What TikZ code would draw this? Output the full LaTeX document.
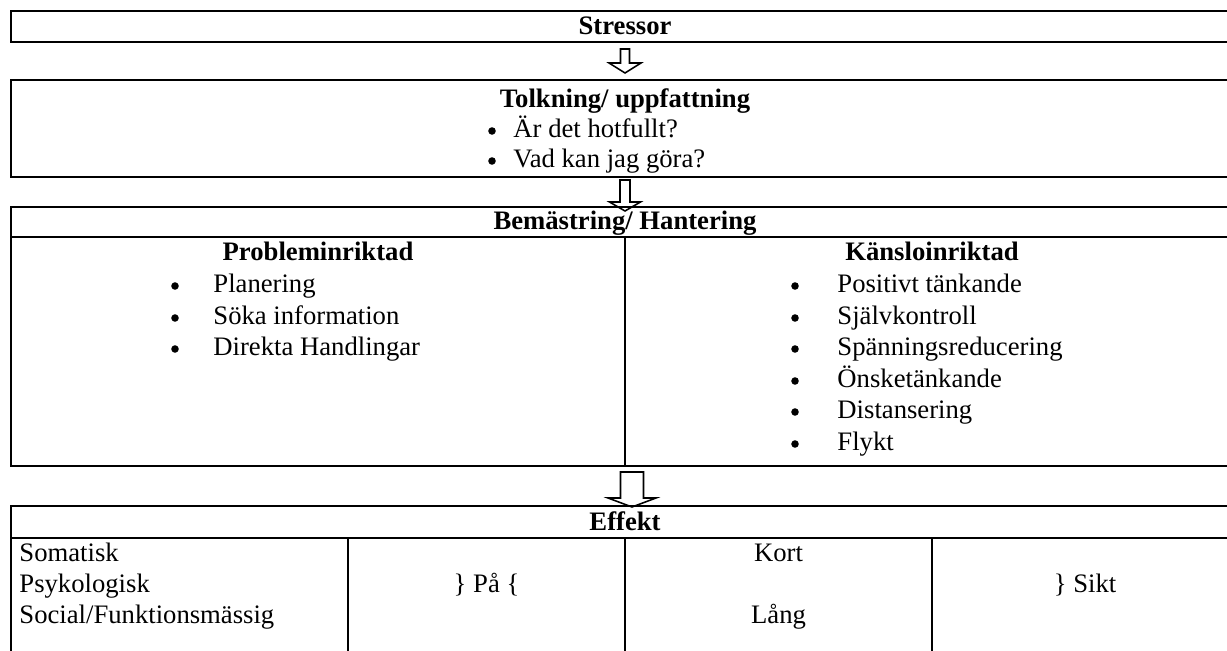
\documentclass[tikz,border=0pt]{standalone}
\usepackage{fontspec}
\setmainfont{Liberation Serif}
\usetikzlibrary{positioning,fit,calc}

\begin{document}
\begin{tikzpicture}[
    x=0.45pt, y=-0.45pt,
    font=\fontsize{12}{14}\selectfont,
    box/.style={rectangle, draw=black, line width=1.2pt, inner sep=0pt},
    divider/.style={line width=1.2pt},
    hollow/.style={draw=black, line width=0.7pt, line join=miter},
    headtext/.style={anchor=base, inner sep=0pt, font=\fontsize{12}{14}\selectfont\bfseries},
    plaintext/.style={anchor=base, inner sep=0pt},
    itemtext/.style={anchor=base west, inner sep=0pt},
    bulletdot/.style={circle, fill=black, inner sep=0pt, minimum size=3.4pt},
]
\useasboundingbox (0,0) rectangle (1227,651);
\clip (0,0) rectangle (1227,651);

% Stressor
\node[box, fit={(11,11) (1239,42)}] (stressor) {};
\node[headtext] (stressortxt) at (625,35) {Stressor};

% Tolkning
\node[box, fit={(11,80) (1239,177)}] (tolkning) {};
\node[headtext] (tolkningtxt) at (625,108) {Tolkning/ uppfattning};
\node[bulletdot] (tb1) at (492,131) {};
\node[itemtext] (tt1) at (513,138) {Är det hotfullt?};
\node[bulletdot] (tb2) at (492,161) {};
\node[itemtext] (tt2) at (513,168) {Vad kan jag göra?};

% Bemastring
\node[box, fit={(11,207) (1239,466)}] (bemastring) {};
\draw[divider] (11,237) -- (1239,237);
\draw[divider] (625,237) -- (bemastring.south);
\node[headtext] (bemtxt) at (625,230) {Bemästring/ Hantering};

% Probleminriktad
\node[headtext] (problem) at (318,261) {Probleminriktad};
\node[bulletdot] (pb1) at (175,286) {};
\node[itemtext] (pt1) at (213,293) {Planering};
\node[bulletdot] (pb2) at (175,318) {};
\node[itemtext] (pt2) at (213,325) {Söka information};
\node[bulletdot] (pb3) at (175,349) {};
\node[itemtext] (pt3) at (213,356) {Direkta Handlingar};

% Kansloinriktad
\node[headtext] (kansla) at (932,261) {Känsloinriktad};
\node[bulletdot] (kb1) at (795,286) {};
\node[itemtext] (kt1) at (837,293) {Positivt tänkande};
\node[bulletdot] (kb2) at (795,318) {};
\node[itemtext] (kt2) at (837,325) {Självkontroll};
\node[bulletdot] (kb3) at (795,349) {};
\node[itemtext] (kt3) at (837,356) {Spänningsreducering};
\node[bulletdot] (kb4) at (795,381) {};
\node[itemtext] (kt4) at (837,388) {Önsketänkande};
\node[bulletdot] (kb5) at (795,412) {};
\node[itemtext] (kt5) at (837,419) {Distansering};
\node[bulletdot] (kb6) at (795,444) {};
\node[itemtext] (kt6) at (837,451) {Flykt};

% Effekt
\node[box, fit={(11,506) (1239,690)}] (effekt) {};
\draw[divider] (11,538) -- (1239,538);
\draw[divider] (348,538) -- (348,690);
\draw[divider] (625,538) -- (625,690);
\draw[divider] (932,538) -- (932,690);
\node[headtext] (effekttxt) at (625,530) {Effekt};
\node[itemtext] (somatisk) at (19,561) {Somatisk};
\node[itemtext] (psyk) at (19,592) {Psykologisk};
\node[itemtext] (social) at (19,623) {Social/Funktionsmässig};
\node[plaintext] (paa) at (486.5,592) {\} På \{};
\node[plaintext] (kort) at (778.5,561) {Kort};
\node[plaintext] (lang) at (778.5,623) {Lång};
\node[plaintext] (sikt) at (1085,592) {\} Sikt};

% Arrows
\coordinate (arr1) at ($(stressor.south)!0.5!(tolkning.north)$);
\draw[hollow, shift={(arr1)}] (-4.5,-12) -- (4.5,-12) -- (4.5,2) -- (16,2) -- (0,12) -- (-16,2) -- (-4.5,2) -- cycle;
\coordinate (arr2) at ($(tolkning.south)!0.5!(bemastring.north)$);
\draw[hollow, shift={(arr2)}] (-5,-12) -- (5,-12) -- (5,10) -- (15.5,10) -- (0,19) -- (-15.5,10) -- (-5,10) -- cycle;
\coordinate (arr3) at ($(bemastring.south)!0.5!(effekt.north)$);
\draw[hollow, shift={(arr3)}] (-4.5,-14) -- (18.5,-14) -- (18.5,12) -- (31,12) -- (7,21) -- (-17,12) -- (-4.5,12) -- cycle;

\end{tikzpicture}
\end{document}
